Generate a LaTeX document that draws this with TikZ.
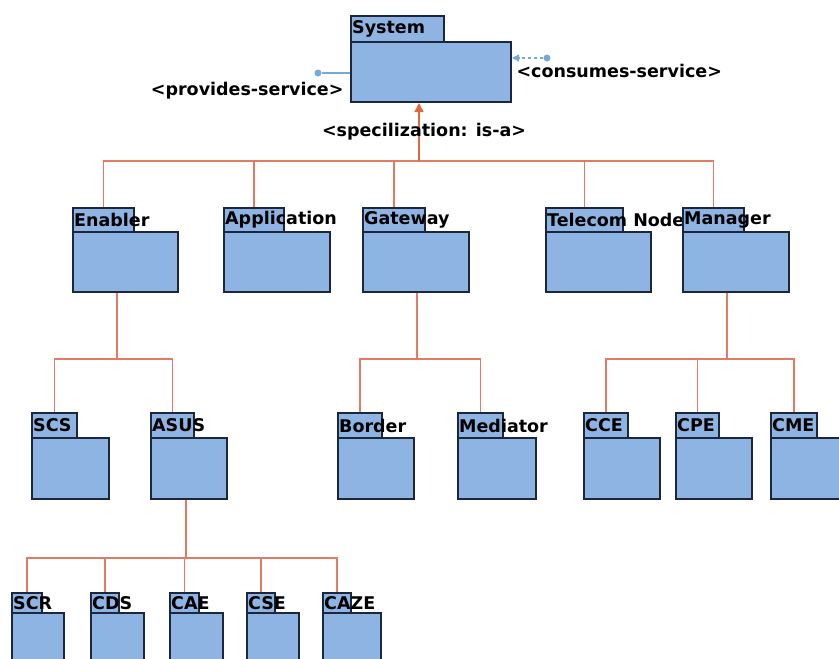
\documentclass[tikz,border=0pt]{standalone}
\usepackage{fontspec}
\setmainfont{DejaVu Sans}
\usetikzlibrary{arrows.meta,positioning,calc}
\definecolor{pkgfill}{RGB}{142,180,227}
\definecolor{pkgline}{RGB}{28,38,60}
\definecolor{linkcol}{RGB}{226,122,100}
\definecolor{isacol}{RGB}{224,104,60}
\definecolor{svccol}{RGB}{118,168,218}

\begin{document}
\begin{tikzpicture}[x=1pt,y=-1pt]
        \tikzstyle{every node}=[font=\fontsize{17.5}{19}\selectfont\bfseries]
        \tikzstyle{pkgtab}=[draw=pkgline,fill=pkgfill,line width=2pt,anchor=north west,inner sep=0pt,minimum height=25pt]
        \tikzstyle{pkgbody}=[draw=pkgline,fill=pkgfill,line width=2pt,anchor=north west,inner sep=0pt,minimum height=61pt]
        \tikzstyle{pkgname}=[anchor=west,inner sep=0pt,xshift=2pt]
        \tikzstyle{link}=[draw=linkcol,line width=1.7pt]
        \tikzstyle{svcdot}=[circle,fill=svccol,inner sep=0pt,minimum size=7pt]
        \clip (0,0) rectangle (839,659);

        %%% System
        \node[pkgtab,minimum width=93pt,minimum height=26pt] (syst) at (350,15) {};
        \node[pkgbody,minimum width=160pt,minimum height=60pt] (sys) at (350,41) {};
        \node[pkgname] (sysl) at (syst.west) {System};

        \node[svcdot] (provdot) at (318,73) {};
        \draw[draw=svccol,line width=1.2pt] (provdot) -- (provdot -| sys.west);
        \node[anchor=east] (provl) at (347,91) {<provides-service>};
        \node[svcdot] (consdot) at (547,58) {};
        \draw[draw=svccol,line width=1.2pt,dashed,-{Triangle[width=7pt,length=7pt]}] (consdot) -- (consdot -| sys.east);
        \node[anchor=west] (consl) at (513,71) {<consumes-service>};

        %%% Level 1
        \node[pkgtab,minimum width=61pt,minimum height=24pt] (ent) at (72,207) {};
        \node[pkgbody,minimum width=105pt,minimum height=60pt] (en) at (72,231) {};
        \node[pkgname] (enl) at (ent.west) {Enabler};
        \node[pkgtab,minimum width=60pt,minimum height=24pt] (appt) at (223,207) {};
        \node[pkgbody,minimum width=106pt,minimum height=60pt] (app) at (223,231) {};
        \node[pkgname] (appl) at (appt.west) {Application};
        \node[pkgtab,minimum width=62pt,minimum height=24pt] (gwt) at (362,207) {};
        \node[pkgbody,minimum width=106pt,minimum height=60pt] (gw) at (362,231) {};
        \node[pkgname] (gwl) at (gwt.west) {Gateway};
        \node[pkgtab,minimum width=77pt,minimum height=24pt] (tnt) at (545,207) {};
        \node[pkgbody,minimum width=105pt,minimum height=60pt] (tn) at (545,231) {};
        \node[pkgname] (tnl) at (tnt.west) {Telecom Node};
        \node[pkgtab,minimum width=61pt,minimum height=24pt] (mgrt) at (682,207) {};
        \node[pkgbody,minimum width=106pt,minimum height=60pt] (mgr) at (682,231) {};
        \node[pkgname] (mgrl) at (mgrt.west) {Manager};

        %%% Level 2
        \node[pkgtab,minimum width=45pt] (scst) at (31,412) {};
        \node[pkgbody,minimum width=77pt] (scs) at (31,437) {};
        \node[pkgname] (scsl) at (scst.west) {SCS};
        \node[pkgtab,minimum width=43pt] (asust) at (150,412) {};
        \node[pkgbody,minimum width=76pt] (asus) at (150,437) {};
        \node[pkgname] (asusl) at (asust.west) {ASUS};
        \node[pkgtab,minimum width=44pt] (bordt) at (337,412) {};
        \node[pkgbody,minimum width=76pt] (bord) at (337,437) {};
        \node[pkgname] (bordl) at (bordt.west) {Border};
        \node[pkgtab,minimum width=45pt] (medt) at (457,412) {};
        \node[pkgbody,minimum width=78pt] (med) at (457,437) {};
        \node[pkgname] (medl) at (medt.west) {Mediator};
        \node[pkgtab,minimum width=44pt] (ccet) at (583,412) {};
        \node[pkgbody,minimum width=76pt] (cce) at (583,437) {};
        \node[pkgname] (ccel) at (ccet.west) {CCE};
        \node[pkgtab,minimum width=43pt] (cpet) at (675,412) {};
        \node[pkgbody,minimum width=76pt] (cpe) at (675,437) {};
        \node[pkgname] (cpel) at (cpet.west) {CPE};
        \node[pkgtab,minimum width=46pt] (cmet) at (770,412) {};
        \node[pkgbody,minimum width=76pt] (cme) at (770,437) {};
        \node[pkgname] (cmel) at (cmet.west) {CME};

        %%% Level 3
        \node[pkgtab,minimum width=30pt,minimum height=20pt] (scrt) at (11,592) {};
        \node[pkgbody,minimum width=52pt] (scr) at (11,612) {};
        \node[pkgname] (scrl) at (scrt.west) {SCR};
        \node[pkgtab,minimum width=28pt,minimum height=20pt] (cdst) at (90,592) {};
        \node[pkgbody,minimum width=53pt] (cds) at (90,612) {};
        \node[pkgname] (cdsl) at (cdst.west) {CDS};
        \node[pkgtab,minimum width=29pt,minimum height=20pt] (caet) at (169,592) {};
        \node[pkgbody,minimum width=53pt] (cae) at (169,612) {};
        \node[pkgname] (cael) at (caet.west) {CAE};
        \node[pkgtab,minimum width=28pt,minimum height=20pt] (cset) at (246,592) {};
        \node[pkgbody,minimum width=52pt] (cse) at (246,612) {};
        \node[pkgname] (csel) at (cset.west) {CSE};
        \node[pkgtab,minimum width=28pt,minimum height=20pt] (cazet) at (322,592) {};
        \node[pkgbody,minimum width=58pt] (caze) at (322,612) {};
        \node[pkgname] (cazel) at (cazet.west) {CAZE};

        %%% Links
        \coordinate (bus1) at (419,161);
        \coordinate (bus2a) at (117,359);
        \coordinate (bus2b) at (417,359);
        \coordinate (bus2c) at (727,359);
        \coordinate (bus3) at (186,558);

        \draw[link] (ent.north) |- (mgrt.north |- bus1) -- (mgrt.north);
        \draw[link] (appt.north) -- (appt.north |- bus1);
        \draw[link] (gwt.north) -- (gwt.north |- bus1);
        \draw[link] (tnt.north) -- (tnt.north |- bus1);
        \draw[draw=isacol,line width=1.7pt,-{Triangle[width=9pt,length=9pt]}] (bus1) -- (bus1 |- sys.south);
        \node (isal) at (424,132) {<specilization: is-a>};

        \draw[link] (bus2a |- en.south) -- (bus2a);
        \draw[link] (scst.north) |- (asust.north |- bus2a) -- (asust.north);

        \draw[link] (bus2b |- gw.south) -- (bus2b);
        \draw[link] (bordt.north) |- (medt.north |- bus2b) -- (medt.north);

        \draw[link] (bus2c |- mgr.south) -- (bus2c);
        \draw[link] (ccet.north) |- (cmet.north |- bus2c) -- (cmet.north);
        \draw[link] (cpet.north) -- (cpet.north |- bus2c);

        \draw[link] (bus3 |- asus.south) -- (bus3);
        \draw[link] (scrt.north) |- (cazet.north |- bus3) -- (cazet.north);
        \draw[link] (cdst.north) -- (cdst.north |- bus3);
        \draw[link] (caet.north) -- (caet.north |- bus3);
        \draw[link] (cset.north) -- (cset.north |- bus3);
\end{tikzpicture}
\end{document}
